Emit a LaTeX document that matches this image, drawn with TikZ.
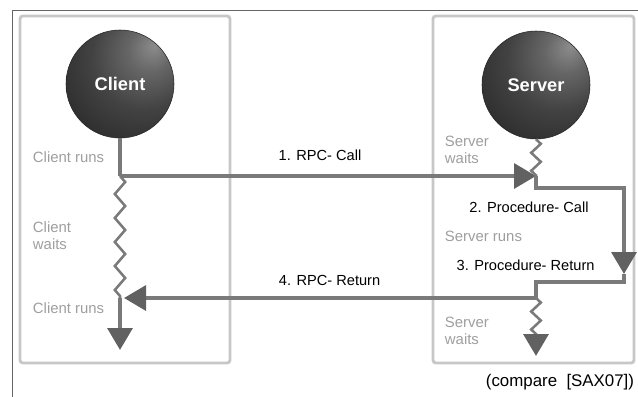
\documentclass[tikz,border=0pt]{standalone}
\usepackage{fontspec}
\setmainfont{Liberation Sans}
\usetikzlibrary{arrows.meta,decorations.pathmorphing}
\pgfdeclareradialshading{sphere}{\pgfpoint{16bp}{18bp}}{color(0bp)=(black!45); color(10bp)=(black!60); color(24bp)=(black!74); color(42bp)=(black!84); color(60bp)=(black!91); color(75bp)=(black!96)}

\begin{document}
\begin{tikzpicture}[
    frame/.style={draw=black!22, line width=2pt, rounded corners=2pt},
    ball/.style={circle, shade, shading=sphere, draw=black!85, minimum size=2.7cm, text=white, font=\fontsize{13}{15}\selectfont\bfseries},
    flow/.style={draw=black!52, line width=2.8pt},
    arrow/.style={flow, -{Triangle[length=0.55cm, width=0.62cm, color=black!62]}},
    wait/.style={draw=black!52, line width=1.8pt, decorate, decoration={zigzag, segment length=0.6cm, amplitude=0.13cm}},
    state/.style={text=black!38, align=left, anchor=west, font=\fontsize{10.6}{12}\selectfont},
    msg/.style={font=\fontsize{10.4}{12}\selectfont}
]
    \useasboundingbox (0,0) rectangle (15.95,-9.925);
    \draw[black!60, thin] (0.3,-9.925) -- (0.3,-0.25) -- (15.95,-0.25);

    % Client side
    \draw[frame] (0.5,-0.4) rectangle (5.75,-9.075);
    \node[ball] (cli) at (3,-2.1) {Client};
    \coordinate (c1) at (3,-4.4);
    \coordinate (c2) at (3,-7.45);
    \coordinate (cend) at (3,-8.75);
    \node[state] (cruns) at (0.7,-3.925) {Client runs};
    \node[state] (cwaits) at (0.7,-5.9) {Client\\waits};
    \node[state] (cruns2) at (0.7,-7.7) {Client runs};

    % Server side
    \draw[frame] (10.825,-0.4) rectangle (15.85,-9.075);
    \node[ball] (srv) at (13.4,-2.125) {Server};
    \coordinate (sp) at (13.4,-4.4);
    \coordinate (sc1) at (13.4,-4.7);
    \coordinate (sc2) at (15.6,-4.7);
    \coordinate (sr) at (15.6,-6.85);
    \coordinate (sr1) at (15.6,-7.05);
    \coordinate (sr2) at (13.4,-7.05);
    \coordinate (sw) at (13.4,-7.45);
    \coordinate (sw2) at (13.4,-8.35);
    \coordinate (send) at (13.4,-8.9);
    \node[state] (swaits) at (11.0,-3.75) {Server\\waits};
    \node[state] (sruns) at (11.0,-5.9) {Server runs};
    \node[state] (swaits2) at (11.0,-8.275) {Server\\waits};

    % Messages
    \node[msg] (call) at (8.0,-3.875) {1. RPC- Call};
    \node[msg] (pcall) at (13.225,-5.175) {2. Procedure- Call};
    \node[msg] (pret) at (13.14,-6.625) {3. Procedure- Return};
    \node[msg] (ret) at (8.24,-7.0) {4. RPC- Return};
    \node[msg, font=\fontsize{12}{14}\selectfont] (cite) at (14.0,-9.55) {(compare\ \ [SAX07])};

    % Flow
    \draw[flow] (cli) -- (c1);
    \draw[wait] (c1) -- (c2);
    \draw[arrow] (c2) -- (cend);
    \draw[arrow] (c1) -- (sp);
    \draw[wait, decoration={zigzag, segment length=0.45cm, amplitude=0.12cm}] (srv) -- (sp);
    \draw[arrow] (sp) -- (sc1) -- (sc2) -- (sr);
    \draw[flow] (sr) -- (sr1) -- (sr2) -- (sw);
    \draw[arrow, shorten >=0.1cm] (sw) -- (c2);
    \draw[wait, decoration={zigzag, segment length=0.45cm, amplitude=0.12cm}] (sw) -- (sw2);
    \draw[arrow] (sw2) -- (send);
\end{tikzpicture}
\end{document}
